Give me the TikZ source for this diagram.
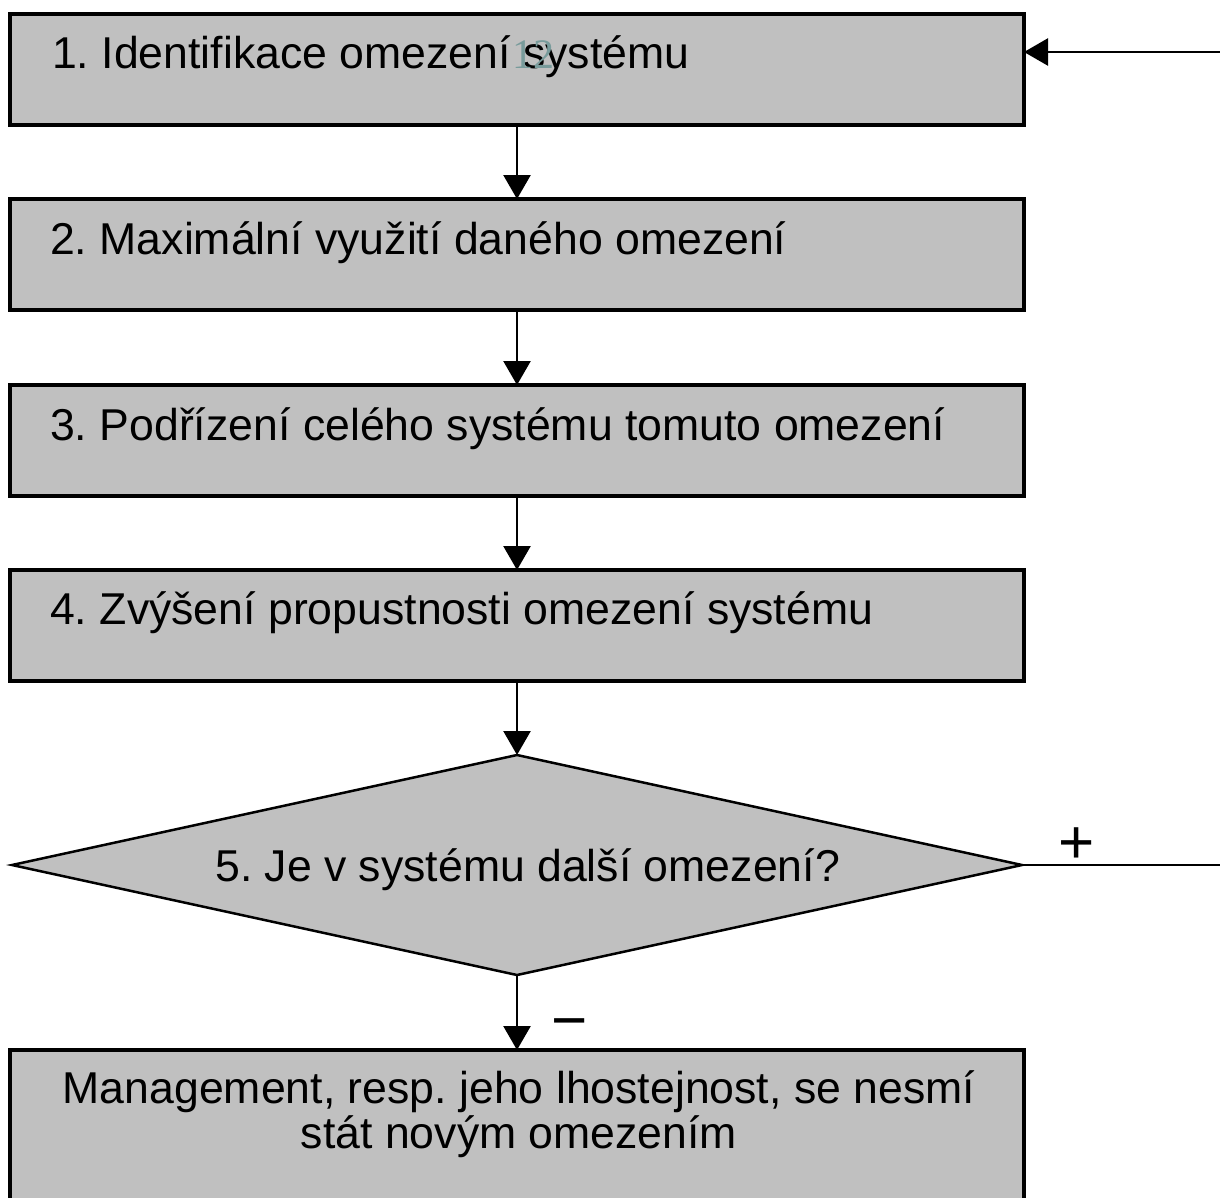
\documentclass[tikz,border=0pt]{standalone}
\usepackage{fontspec}
\setmainfont{Liberation Sans}
\newfontfamily\artifactfont{Liberation Serif}
\usetikzlibrary{arrows.meta,calc,shapes.geometric}
\definecolor{boxgray}{RGB}{192,192,192}
\definecolor{artifact}{RGB}{120,155,155}
\frenchspacing
\begin{document}
\begin{tikzpicture}[x=1pt,y=-1pt,
  stepbox/.style={draw=black,line width=4pt,fill=boxgray,anchor=north west,
    minimum width=1014pt,minimum height=111pt,inner sep=0pt,outer sep=0pt},
  decision/.style={draw=black,line width=2.5pt,fill=boxgray,shape=diamond,
    minimum width=1010pt,minimum height=220pt,inner sep=0pt,outer sep=0pt},
  lbl/.style={font=\fontsize{44.6}{45}\selectfont,inner sep=0pt},
  sign/.style={font=\fontsize{62}{62}\selectfont,inner sep=0pt},
  arr/.style={line width=2.5pt,-{Triangle[length=24pt,width=27pt]}},
  conn/.style={line width=2.5pt}]
\useasboundingbox (0,0) rectangle (1220,1197);

\node[stepbox] (b1) at (10,14) {};
\node[stepbox] (b2) at (10,199) {};
\node[stepbox] (b3) at (10,385) {};
\node[stepbox] (b4) at (10,570) {};
\node[decision] (d5) at (517,865) {};
\node[stepbox,minimum height=160pt] (b6) at (10,1050) {};

\node[lbl,anchor=base west] (t1) at (52,68) {1. Identifikace omezení systému};
\node[text=artifact,font=\artifactfont\fontsize{42}{42}\selectfont,inner sep=0pt,anchor=base] (a12) at (533,68) {12};
\node[lbl,anchor=base west] (t2) at (50,254) {2. Maximální využití daného omezení};
\node[lbl,anchor=base west] (t3) at (50,440) {3. Podřízení celého systému tomuto omezení};
\node[lbl,anchor=base west] (t4) at (50,624) {4. Zvýšení propustnosti omezení systému};
\node[lbl,anchor=base west] (t5) at (215,881) {5. Je v systému další omezení?};
\node[lbl,anchor=base,align=center] (t6) at (519,1148)
  {Management, resp. jeho lhostejnost, se nesmí\\stát novým omezením};

\draw[arr] (b1.south) -- (b2.north);
\draw[arr] (b2.south) -- (b3.north);
\draw[arr] (b3.south) -- (b4.north);
\draw[arr] (b4.south) -- (d5.north);
\draw[arr] (d5.south) -- (b6.north);
\node[sign] (minus) at (570,1030) {−};

\coordinate (c5) at (1222,865);
\draw[conn] (d5.east) -- (c5);
\node[sign] (plus) at (1077,846) {+};

\coordinate (c1) at (1222,52);
\draw[arr] (c1) -- (c1 -| b1.east);
\end{tikzpicture}
\end{document}
